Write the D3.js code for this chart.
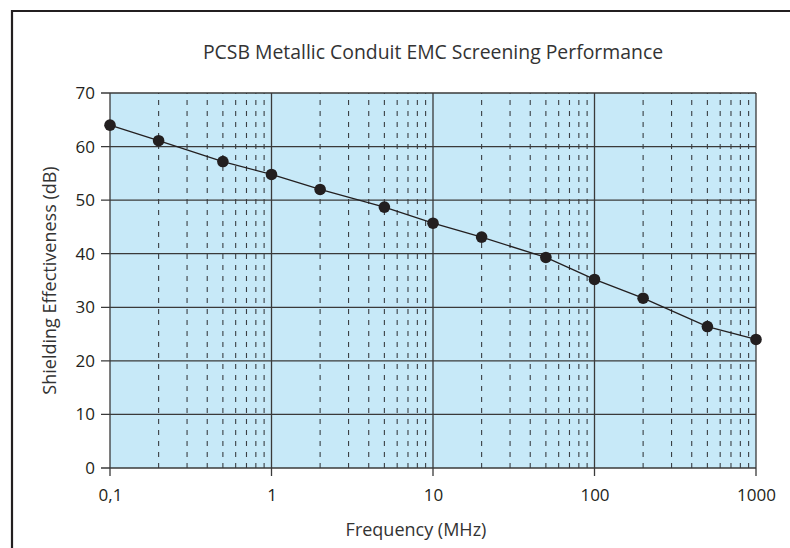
<!DOCTYPE html>
<html>
<head>
<meta charset="utf-8">
<script src="https://cdn.jsdelivr.net/npm/d3@7"></script>
<style>
  body { margin: 0; background: #fff; }
  svg { display: block; font-family: "Open Sans", sans-serif; }
</style>
</head>
<body>
<svg id="chart" width="790" height="548"></svg>
<script>
// frequency (MHz) and shielding effectiveness (dB)
const freq = [0.1, 0.2, 0.5, 1, 2, 5, 10, 20, 50, 100, 200, 500, 1000];
const shielding = [64, 61.1, 57.2, 54.8, 52, 48.7, 45.7, 43.1, 39.3, 35.2, 31.7, 26.4, 24];
const xTicks = [0.1, 1, 10, 100, 1000];
const xTickLabels = ['0,1', '1', '10', '100', '1000'];
const yTicks = [0, 10, 20, 30, 40, 50, 60, 70];

const margins = {top: 93, right: 34, bottom: 80, left: 110};
const width = 790 - margins.left - margins.right,
    height = 548 - margins.top - margins.bottom;

const svg = d3.select('#chart');

// outer frame
svg.append('path')
    .attr('d', 'M12,548 V11 H790')
    .attr('fill', 'none')
    .attr('stroke', '#231f20')
    .attr('stroke-width', 2.2);

svg.append('text')
    .attr('x', 433)
    .attr('y', 59)
    .attr('text-anchor', 'middle')
    .style('font-size', '19.4px')
    .style('fill', '#333')
    .text('PCSB Metallic Conduit EMC Screening Performance');

const chart = svg.append('g')
    .attr('transform', 'translate(' + margins.left + ',' + margins.top + ')');

const xScale = d3.scaleLog()
    .domain([0.1, 1000])
    .range([0, width]);

const yScale = d3.scaleLinear()
    .domain([0, 70])
    .range([height, 0]);

chart.append('rect')
    .attr('width', width)
    .attr('height', height)
    .attr('fill', '#c7e9f8');

// minor dashed verticals
const minor = xScale.ticks().filter(d => xTicks.indexOf(d) < 0);
chart.selectAll('.minor')
    .data(minor)
    .enter().append('line')
    .attr('x1', d => xScale(d))
    .attr('x2', d => xScale(d))
    .attr('y1', height)
    .attr('y2', 0)
    .attr('stroke', '#3a3f44')
    .attr('stroke-width', 1.1)
    .attr('stroke-dasharray', '5,6');

// major verticals
chart.selectAll('.major')
    .data(xTicks)
    .enter().append('line')
    .attr('x1', d => xScale(d))
    .attr('x2', d => xScale(d))
    .attr('y1', height + 8)
    .attr('y2', 0)
    .attr('stroke', '#3a3a3a')
    .attr('stroke-width', 1.3);

// horizontal grid
chart.selectAll('.hgrid')
    .data(yTicks)
    .enter().append('line')
    .attr('x1', -9)
    .attr('x2', width)
    .attr('y1', d => yScale(d))
    .attr('y2', d => yScale(d))
    .attr('stroke', '#3a3a3a')
    .attr('stroke-width', 1.3);

const xAxis = chart.append('g')
    .attr('transform', 'translate(0,' + height + ')')
    .call(d3.axisBottom(xScale)
        .tickValues(xTicks)
        .tickFormat((d, i) => xTickLabels[i])
        .tickSize(0)
        .tickPadding(21));
xAxis.select('.domain').remove();
xAxis.selectAll('text')
    .style('font-size', '17px')
    .style('font-family', '"Open Sans", sans-serif')
    .attr('fill', '#231f20');

const yAxis = chart.append('g')
    .call(d3.axisLeft(yScale)
        .tickValues(yTicks)
        .tickSize(0)
        .tickPadding(15));
yAxis.select('.domain').remove();
yAxis.selectAll('text')
    .style('font-size', '17px')
    .style('font-family', '"Open Sans", sans-serif')
    .attr('fill', '#231f20');

const line = d3.line()
    .x((d, i) => xScale(freq[i]))
    .y(d => yScale(d));

chart.append('path')
    .datum(shielding)
    .attr('d', line)
    .attr('fill', 'none')
    .attr('stroke', '#231f20')
    .attr('stroke-width', 1.3);

chart.selectAll('.dot')
    .data(shielding)
    .enter().append('circle')
    .attr('r', 5.8)
    .attr('cx', (d, i) => xScale(freq[i]))
    .attr('cy', d => yScale(d))
    .attr('fill', '#231f20');

chart.append('text')
    .style('font-size', '18px')
    .style('text-anchor', 'middle')
    .style('fill', '#333')
    .attr('x', height / -2)
    .attr('y', -54)
    .attr('transform', 'rotate(-90)')
    .text('Shielding Effectiveness (dB)');

chart.append('text')
    .style('font-size', '18px')
    .style('text-anchor', 'middle')
    .style('fill', '#333')
    .attr('x', 416 - margins.left)
    .attr('y', height + 68)
    .text('Frequency (MHz)');
</script>
</body>
</html>
